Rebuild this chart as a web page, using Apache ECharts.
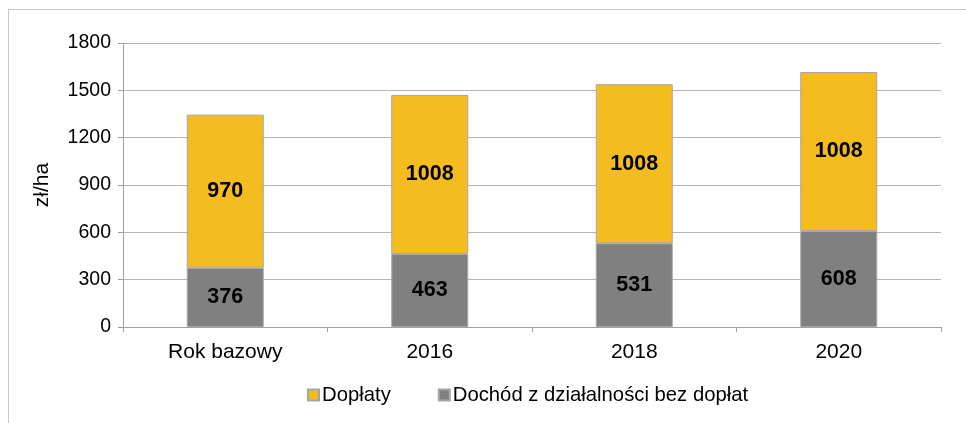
<!DOCTYPE html>
<html>
<head>
    <meta charset="utf-8">
    <title>Dochód zł/ha</title>
    <script src="https://cdn.jsdelivr.net/npm/echarts@6.0.0/dist/echarts.min.js"></script>
    <style>
        html, body { margin: 0; padding: 0; background: #fff; }
        #wykres { width: 966px; height: 423px; }
    </style>
</head>
<body>
    <div id="wykres"></div>
    <script>
        // Dane
        const kategorie = ['Rok bazowy', '2016', '2018', '2020'];
        const doplaty = [970, 1008, 1008, 1008];
        const dochodBezDoplat = [376, 463, 531, 608];
        const osY = { min: 0, max: 1800, interval: 300 };

        const czcionka = '"Liberation Sans", Arial, sans-serif';
        const wykres = echarts.init(document.getElementById('wykres'));

        const etykieta = {
            show: true,
            position: 'inside',
            color: '#000',
            fontFamily: czcionka,
            fontWeight: 'bold',
            fontSize: 21.5
        };

        wykres.setOption({
            animation: false,
            textStyle: { fontFamily: czcionka },
            graphic: [
                { type: 'line', shape: { x1: 8, y1: 9.5, x2: 966, y2: 9.5 }, style: { stroke: '#c8c8c8', lineWidth: 1 } },
                { type: 'line', shape: { x1: 8.5, y1: 9, x2: 8.5, y2: 423 }, style: { stroke: '#c8c8c8', lineWidth: 1 } }
            ],
            grid: { left: 123, right: 25, top: 43, bottom: 96 },
            legend: {
                data: ['Dopłaty', 'Dochód z działalności bez dopłat'],
                left: 302,
                top: 380,
                itemWidth: 11,
                itemHeight: 11,
                itemGap: 47,
                icon: 'rect',
                textStyle: { fontFamily: czcionka, fontSize: 20.3, color: '#000', padding: [0, 0, 0, -2] }
            },
            xAxis: {
                type: 'category',
                data: kategorie,
                axisLine: { lineStyle: { color: '#a0a0a0' } },
                axisTick: { show: true, length: 5, lineStyle: { color: '#a0a0a0' } },
                axisLabel: { color: '#000', fontSize: 21, margin: 15 }
            },
            yAxis: {
                type: 'value',
                min: osY.min,
                max: osY.max,
                interval: osY.interval,
                name: 'zł/ha',
                nameLocation: 'middle',
                nameGap: 70,
                nameRotate: 90,
                nameTextStyle: { color: '#000', fontSize: 21 },
                axisLine: { show: true, lineStyle: { color: '#a0a0a0' } },
                axisTick: { show: true, length: 5, lineStyle: { color: '#a0a0a0' } },
                axisLabel: { color: '#000', fontSize: 19.5, margin: 12, formatter: v => String(v) },
                splitLine: { lineStyle: { color: '#b4b4b4' } }
            },
            series: [
                {
                    name: 'Dochód z działalności bez dopłat',
                    type: 'bar',
                    stack: 'razem',
                    barWidth: 77,
                    data: dochodBezDoplat,
                    itemStyle: { color: '#808080', borderColor: '#a6a6a6', borderWidth: 1 },
                    label: etykieta
                },
                {
                    name: 'Dopłaty',
                    type: 'bar',
                    stack: 'razem',
                    barWidth: 77,
                    data: doplaty,
                    itemStyle: { color: '#F4BC1F', borderColor: '#a6a6a6', borderWidth: 1 },
                    label: etykieta
                }
            ]
        });
    </script>
</body>
</html>
